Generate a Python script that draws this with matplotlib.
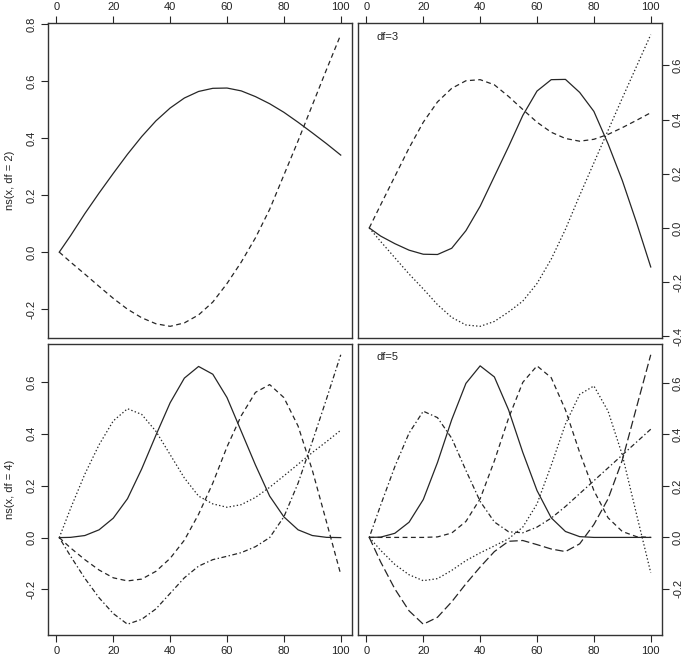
import matplotlib
matplotlib.use("Agg")
import matplotlib.pyplot as plt

plt.rcParams['font.family'] = ['Liberation Sans', 'DejaVu Sans']
plt.rcParams['lines.scale_dashes'] = False

# x positions where curves were read
x = [1, 5, 10, 15, 20, 25, 30, 35, 40, 45, 50, 55, 60, 65, 70, 75, 80, 85, 90, 95, 100]

# ns(x, df = 2)
df2_c1 = [0, 0.058, 0.135, 0.207, 0.276, 0.343, 0.405, 0.46, 0.505, 0.54, 0.563, 0.574, 0.575, 0.565, 0.545, 0.52, 0.49, 0.455, 0.418, 0.38, 0.34]
df2_c2 = [0, -0.035, -0.077, -0.12, -0.162, -0.2, -0.23, -0.251, -0.26, -0.248, -0.22, -0.175, -0.11, -0.035, 0.05, 0.15, 0.27, 0.39, 0.515, 0.64, 0.762]

# ns(x, df = 3)
df3_c1 = [0, -0.03, -0.058, -0.082, -0.097, -0.098, -0.075, -0.01, 0.08, 0.19, 0.30, 0.415, 0.505, 0.547, 0.548, 0.50, 0.43, 0.31, 0.175, 0.02, -0.144]
df3_c2 = [0, 0.085, 0.19, 0.295, 0.39, 0.465, 0.515, 0.543, 0.547, 0.528, 0.485, 0.437, 0.39, 0.353, 0.33, 0.32, 0.327, 0.345, 0.37, 0.397, 0.425]
df3_c3 = [0, -0.05, -0.11, -0.17, -0.225, -0.283, -0.33, -0.358, -0.363, -0.345, -0.31, -0.27, -0.205, -0.115, -0.005, 0.12, 0.24, 0.36, 0.479, 0.596, 0.713]

# ns(x, df = 4)
df4_c1 = [0, 0.001, 0.008, 0.03, 0.075, 0.15, 0.265, 0.395, 0.52, 0.615, 0.66, 0.63, 0.54, 0.41, 0.28, 0.16, 0.08, 0.03, 0.008, 0.001, 0]
df4_c2 = [0, -0.04, -0.085, -0.125, -0.155, -0.167, -0.16, -0.13, -0.08, -0.01, 0.09, 0.21, 0.35, 0.47, 0.56, 0.59, 0.54, 0.43, 0.26, 0.06, -0.142]
df4_c3 = [0, 0.113, 0.245, 0.358, 0.45, 0.497, 0.475, 0.41, 0.32, 0.23, 0.16, 0.13, 0.117, 0.127, 0.155, 0.194, 0.238, 0.283, 0.328, 0.37, 0.414]
df4_c4 = [0, -0.072, -0.157, -0.232, -0.293, -0.334, -0.315, -0.275, -0.215, -0.155, -0.11, -0.085, -0.072, -0.058, -0.035, 0.0, 0.08, 0.21, 0.37, 0.535, 0.705]

# ns(x, df = 5)
df5_c1 = [0, 0.001, 0.016, 0.059, 0.147, 0.291, 0.457, 0.598, 0.666, 0.623, 0.495, 0.33, 0.182, 0.076, 0.023, 0.003, 0, 0, 0, 0, 0]
df5_c2 = [0, 0, 0, 0, 0, 0.002, 0.017, 0.062, 0.15, 0.297, 0.463, 0.602, 0.666, 0.62, 0.495, 0.33, 0.182, 0.076, 0.023, 0.003, 0]
df5_c3 = [0, -0.05, -0.105, -0.145, -0.168, -0.16, -0.128, -0.09, -0.06, -0.033, -0.005, 0.04, 0.13, 0.28, 0.44, 0.555, 0.588, 0.49, 0.32, 0.09, -0.137]
df5_c4 = [0, 0.125, 0.275, 0.405, 0.49, 0.465, 0.385, 0.26, 0.14, 0.06, 0.022, 0.018, 0.04, 0.075, 0.12, 0.17, 0.22, 0.27, 0.32, 0.37, 0.42]
df5_c5 = [0, -0.095, -0.2, -0.285, -0.337, -0.31, -0.25, -0.18, -0.115, -0.055, -0.015, -0.012, -0.028, -0.045, -0.055, -0.025, 0.05, 0.15, 0.30, 0.505, 0.709]

xticks = [0, 20, 40, 60, 80, 100]
yticks_df2 = [-0.2, 0.0, 0.2, 0.4, 0.6, 0.8]
yticks_df3 = [-0.4, -0.2, 0.0, 0.2, 0.4, 0.6]
yticks_df4 = [-0.2, 0.0, 0.2, 0.4, 0.6]
yticks_df5 = [-0.2, 0.0, 0.2, 0.4, 0.6]

panels = [
    dict(series=[df2_c1, df2_c2], yticks=yticks_df2, top=True, right=False,
         ylabel="ns(x, df = 2)", note=None),
    dict(series=[df3_c1, df3_c2, df3_c3], yticks=yticks_df3, top=True, right=True,
         ylabel=None, note="df=3"),
    dict(series=[df4_c1, df4_c2, df4_c3, df4_c4], yticks=yticks_df4, top=False, right=False,
         ylabel="ns(x, df = 4)", note=None),
    dict(series=[df5_c1, df5_c2, df5_c3, df5_c4, df5_c5], yticks=yticks_df5, top=False, right=True,
         ylabel=None, note="df=5"),
]

styles = ['-', (0, (3.5, 2.5)), (0, (1.0, 1.6)), (0, (1.0, 1.8, 3.5, 1.8)), (0, (6.0, 2.5))]
col = '#262626'

W, H = 685, 659
fig = plt.figure(figsize=(W / 100, H / 100), dpi=100)
rects = [
    (48, 23, 352, 338), (358, 23, 662, 338),
    (48, 344, 352, 635), (358, 344, 662, 635),
]

for p, (l, t, r, b) in zip(panels, rects):
    ax = fig.add_axes([l / W, 1 - b / H, (r - l) / W, (b - t) / H])
    for s, ls in zip(p['series'], styles):
        ax.plot(x, s, color=col, lw=0.9, linestyle=ls)
    ax.margins(x=0.04, y=0.04)
    ax.set_xticks(xticks)
    ax.set_yticks(p['yticks'])
    ax.set_yticklabels([f"{v:.1f}" for v in p['yticks']], rotation=90, va='center')
    if p['top']:
        ax.xaxis.tick_top()
    if p['right']:
        ax.yaxis.tick_right()
    ax.tick_params(direction='out', length=5, width=0.8, colors=col, labelsize=8,
                   pad=3, labelcolor='#222222')
    for sp in ax.spines.values():
        sp.set_color('#333333')
        sp.set_linewidth(1.0)
    if p['ylabel']:
        ax.set_ylabel(p['ylabel'], fontsize=8, color='#222222')
        ax.yaxis.set_label_coords(-0.108, 0.5)
    if p['note']:
        ax.text(0.062, 0.955, p['note'], transform=ax.transAxes, fontsize=8,
                ha='left', va='center', color='#222222')

fig.savefig('out.png', dpi=100)
